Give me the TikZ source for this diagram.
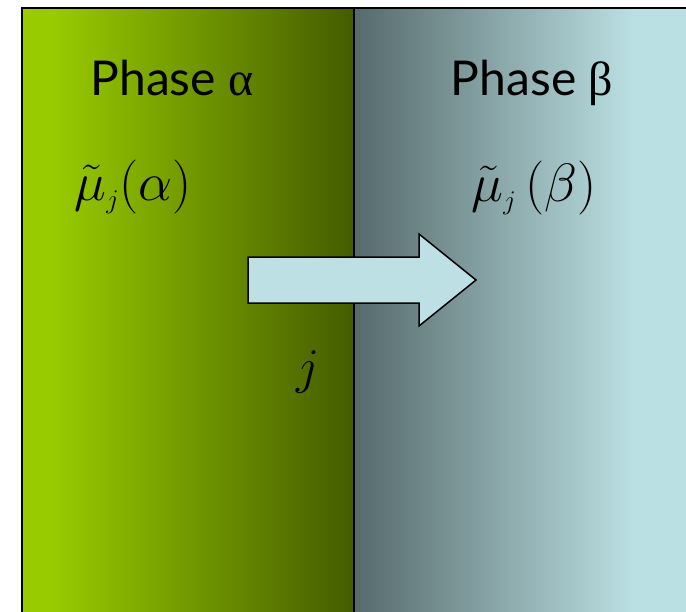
\documentclass[tikz,border=0pt]{standalone}
\usepackage{fix-cm}
\usepackage{fontspec}
\newfontfamily\phasefont{Lato}
\newfontfamily\greekfont{Liberation Serif}
\usetikzlibrary{positioning}
\definecolor{phgreenL}{RGB}{153, 204, 0}
\definecolor{phgreenR}{RGB}{68, 92, 0}
\definecolor{phblueL}{RGB}{86, 106, 108}
\definecolor{phblueR}{RGB}{187, 224, 227}
\definecolor{fluxfill}{RGB}{189, 224, 228}

\begin{document}
\begin{tikzpicture}[x=1pt, y=-1pt,
  phase/.style={anchor=base, inner sep=0pt, font=\phasefont\fontsize{48}{56}\selectfont},
  chem/.style={anchor=base, inner sep=0pt, font=\fontsize{54}{62}\selectfont},
  border/.style={draw=black, line width=2pt},
  flux/.style={draw=black, line width=1.5pt, fill=fluxfill, line join=miter}
]
  \useasboundingbox (0,0) rectangle (686,611);

  % the two phases
  \fill[phgreenL] (22,8) rectangle (50,612);
  \shade[left color=phgreenL, right color=phgreenR] (49,8) rectangle (354,612);
  \shade[left color=phblueL, right color=phblueR] (354,8) rectangle (634,612);
  \fill[phblueR] (633,8) rectangle (687,612);
  \draw[border] (22,612) -- (22,8) -- (687,8);
  \draw[black, line width=1.5pt] (354,8) -- (354,612);

  % flux arrow
  \draw[flux] (248,257) -- (419,257) -- (419,234) -- (476,280)
              -- (419,326) -- (419,303) -- (248,303) -- cycle;

  \node[phase] (phaseA) at (172,95) {Phase {\greekfont α}};
  \node[phase] (phaseB) at (532,95) {Phase {\greekfont β}};

  \node[chem] (muA) at (133,200) {$\tilde{\mu}_{\scriptscriptstyle j}(\alpha)$};
  \node[chem] (muB) at (534,201) {$\tilde{\mu}_{\scriptscriptstyle j}\,(\beta)$};

  \node[chem, font=\fontsize{50}{58}\selectfont] (comp) at (308,383) {$j$};
\end{tikzpicture}
\end{document}
